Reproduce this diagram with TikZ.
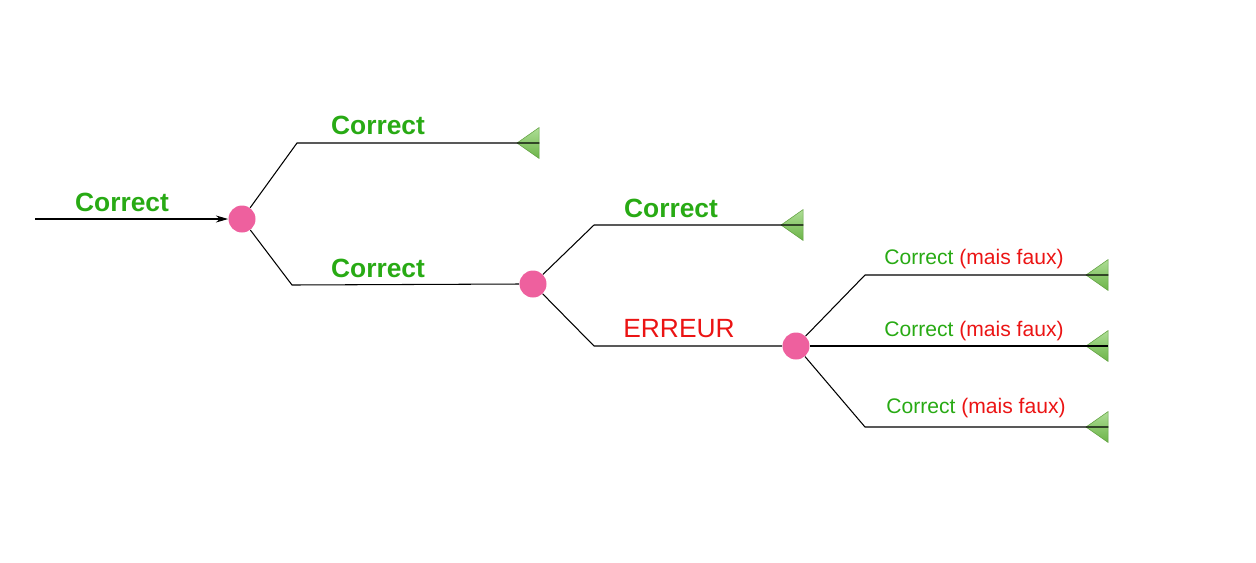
\documentclass[tikz,border=0pt]{standalone}
\usepackage{fontspec}
\setmainfont{Liberation Sans}
\usetikzlibrary{shapes.geometric,arrows.meta}
\definecolor{okgreen}{RGB}{40,170,20}
\definecolor{errred}{RGB}{235,20,20}
\definecolor{chance}{RGB}{238,96,158}
\definecolor{leafgreen}{RGB}{120,200,80}
\tikzset{
  chancenode/.style={circle, fill=chance, minimum size=27*0.02cm, inner sep=0pt},
  leafnode/.style={isosceles triangle, isosceles triangle apex angle=70, shape border rotate=180,
    draw=leafgreen!80!black, line width=0.3pt, top color=leafgreen!60!white, bottom color=leafgreen!90!black,
    minimum height=22*0.02cm, minimum width=24*0.02cm, inner sep=0pt},
  branch/.style={draw=black, line width=0.6pt},
  biglabel/.style={font=\fontsize{15}{18}\selectfont\bfseries, text=okgreen},
  smalllabel/.style={font=\fontsize{12}{14}\selectfont, text=okgreen}
}
\newcommand{\maisfaux}{Correct {\color{errred}(mais faux)}}
\begin{document}
\begin{tikzpicture}[x=0.02cm, y=-0.02cm]
\useasboundingbox (0,0) rectangle (1256,562);
% chance nodes
\node[chancenode] (c1) at (242,219) {};
\node[chancenode] (c2) at (533,284) {};
\node[chancenode] (c3) at (796,346) {};
% leaves
\node[leafnode] (t1) at (531,143) {};
\node[leafnode] (t2) at (795,225) {};
\node[leafnode] (t3) at (1100,275) {};
\node[leafnode] (t4) at (1100,346) {};
\node[leafnode] (t5) at (1100,427) {};
% input
\coordinate (in) at (35,219);
\draw[branch, -{Stealth[length=7pt,width=4pt]}] (in) -- (c1.west);
\node[biglabel] (l0) at (122,202) {Correct};
% first level
\draw[branch] (c1) -- (297,143) -- (t1.east);
\draw[branch] (c1) -- (292,285) -- (c2.west);
\node[biglabel] (l1) at (378,125) {Correct};
\node[biglabel] (l2) at (378,268) {Correct};
% second level
\draw[branch] (c2) -- (594,225) -- (t2.east);
\draw[branch] (c2) -- (594,346) -- (c3.west);
\node[biglabel] (l3) at (671,208) {Correct};
\node[font=\fontsize{15}{18}\selectfont, text=errred] (l4) at (679,329) {ERREUR};
% third level
\draw[branch] (c3) -- (865,275) -- (t3.east);
\draw[branch] (c3) -- (t4.east);
\draw[branch] (c3) -- (865,427) -- (t5.east);
\node[smalllabel] (l5) at (974,259) {\maisfaux};
\node[smalllabel] (l6) at (974,331) {\maisfaux};
\node[smalllabel] (l7) at (976,408) {\maisfaux};
\end{tikzpicture}
\end{document}
